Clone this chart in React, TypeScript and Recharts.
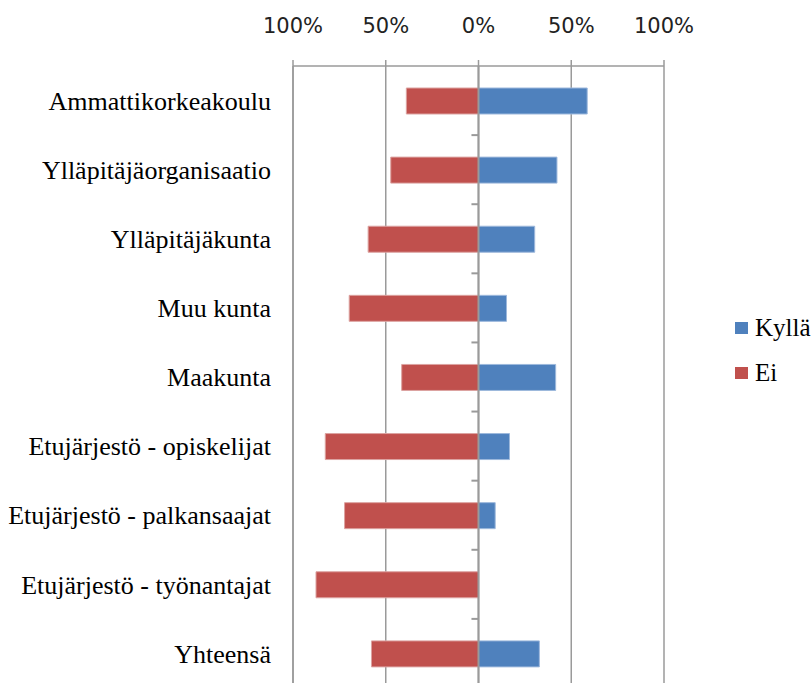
import React from 'react';
import { BarChart, Bar, XAxis, YAxis, CartesianGrid, ReferenceLine, Legend } from 'recharts';

const categories = [
  'Ammattikorkeakoulu',
  'Ylläpitäjäorganisaatio',
  'Ylläpitäjäkunta',
  'Muu kunta',
  'Maakunta',
  'Etujärjestö - opiskelijat',
  'Etujärjestö - palkansaajat',
  'Etujärjestö - työnantajat',
  'Yhteensä',
];
const kylla = [58.6, 42.3, 30.3, 15.1, 41.6, 16.7, 9.0, 0, 32.8];
const ei = [38.9, 47.3, 59.5, 69.7, 41.4, 82.6, 72.2, 87.6, 57.7];
const xTicks = [-100, -50, 0, 50, 100];
const legendOrder = ['Kyllä', 'Ei'];

const data = categories.map((name, i) => ({ name, Kyllä: kylla[i], Ei: -ei[i] }));

const BLUE = '#4F81BD';
const RED = '#C0504D';
const GRID = '#9a9a9a';
const SERIF = '"Liberation Serif", "Times New Roman", serif';
const LEGEND_W = 77;

const renderLegend = (props: any) => {
  const payload = [...(props.payload || [])].sort(
    (a: any, b: any) => legendOrder.indexOf(a.value) - legendOrder.indexOf(b.value)
  );
  return (
    <div style={{ fontFamily: SERIF, fontSize: 25, color: '#000' }}>
      {payload.map((p: any) => (
        <div key={p.value} style={{ display: 'flex', alignItems: 'center', height: 45 }}>
          <span style={{ display: 'inline-block', width: 13, height: 12, background: p.color, marginRight: 7 }} />
          <span style={{ fontFamily: SERIF }}>{p.value}</span>
        </div>
      ))}
    </div>
  );
};

export default function App() {
  return (
    <div style={{ position: 'absolute', left: 0, top: 0, width: 812, height: 683, overflow: 'hidden', background: '#fff' }}>
      <BarChart
        width={812}
        height={690}
        data={data}
        layout="vertical"
        stackOffset="sign"
        margin={{ top: 0, right: 148 - LEGEND_W, bottom: 2, left: 0 }}
      >
        <CartesianGrid horizontal={false} stroke={GRID} strokeWidth={1.5} />
        <XAxis
          type="number"
          orientation="top"
          domain={[-100, 100]}
          ticks={xTicks}
          tickFormatter={(v: number) => `${Math.abs(v)}%`}
          height={66}
          tickSize={6}
          tickMargin={27}
          axisLine={{ stroke: GRID, strokeWidth: 1.5 }}
          tickLine={{ stroke: GRID, strokeWidth: 1.5 }}
          tick={{ fill: '#222', fontSize: 21, fontFamily: '"DejaVu Sans", sans-serif' }}
          interval={0}
        />
        <YAxis
          type="category"
          dataKey="name"
          width={293}
          axisLine={{ stroke: GRID, strokeWidth: 1.5 }}
          tickLine={false}
          tickSize={0}
          tickMargin={22}
          interval={0}
          tick={{ fill: '#000', fontSize: 26, fontFamily: SERIF }}
        />
        <Bar dataKey="Kyllä" stackId="s" fill={BLUE} stroke="#9db8dc" strokeWidth={1} barSize={26} isAnimationActive={false} />
        <Bar dataKey="Ei" stackId="s" fill={RED} stroke="#dca3a1" strokeWidth={1} barSize={26} isAnimationActive={false} />
        <ReferenceLine x={0} stroke={GRID} strokeWidth={2} />
        {categories.slice(1).map((c) => (
          <ReferenceLine
            key={c}
            position="start"
            segment={[{ x: -3.8, y: c }, { x: 0, y: c }]}
            stroke={GRID}
            strokeWidth={2}
          />
        ))}
        <Legend
          layout="horizontal"
          verticalAlign="middle"
          align="right"
          content={renderLegend}
          wrapperStyle={{ left: 735, top: 305, width: LEGEND_W }}
        />
      </BarChart>
    </div>
  );
}
